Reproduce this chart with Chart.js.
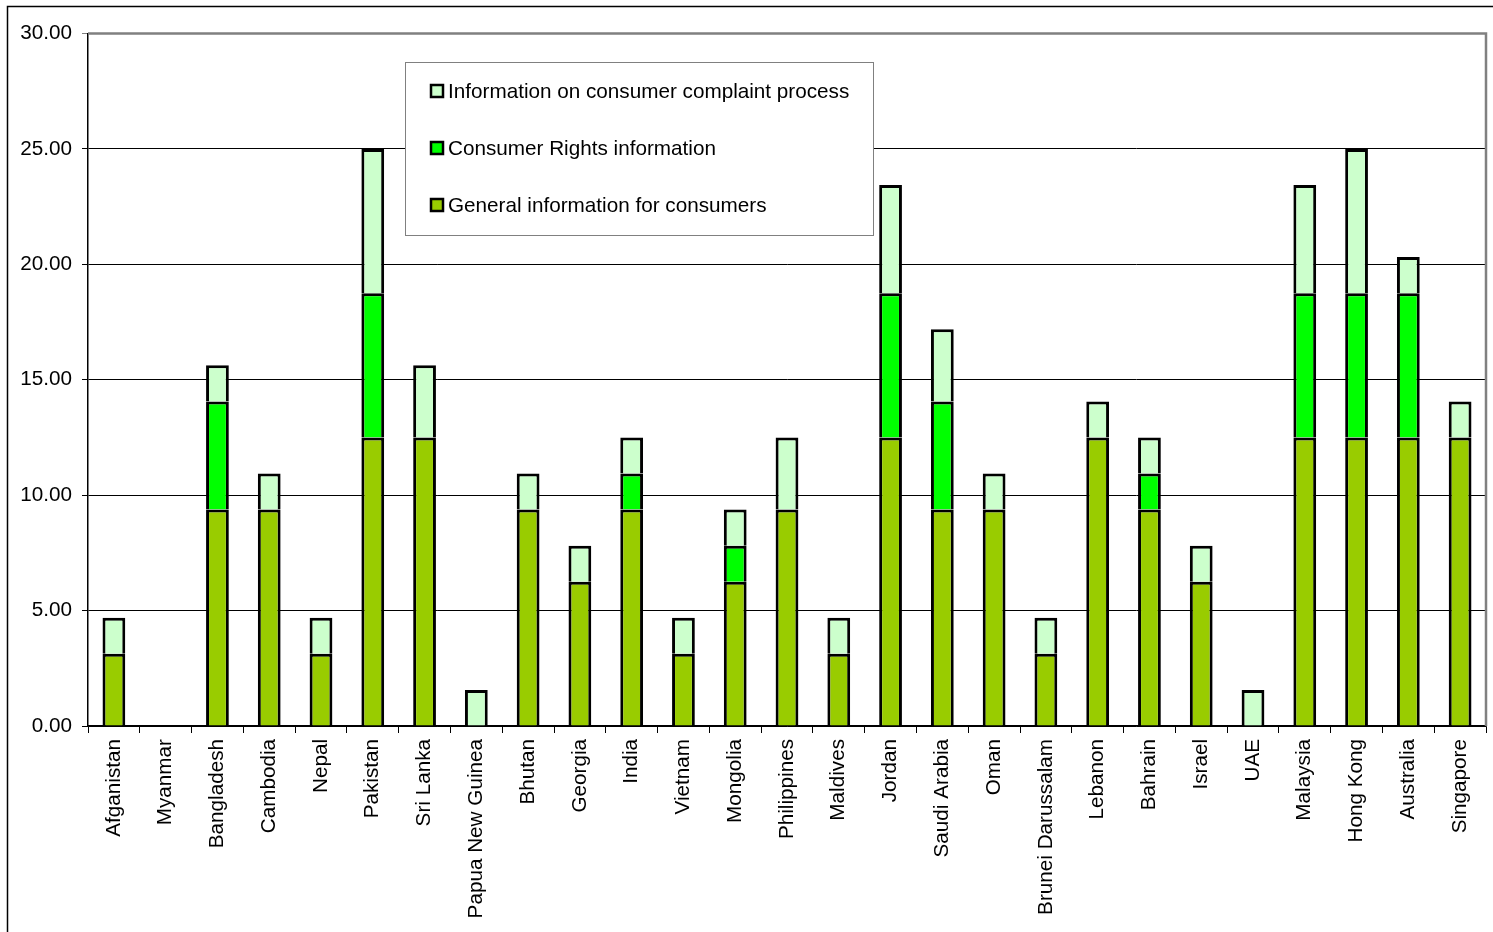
<!DOCTYPE html>
<html>
<head>
<meta charset="utf-8">
<script src="https://cdn.jsdelivr.net/npm/chart.js@4"></script>
<style>
  html, body { margin: 0; padding: 0; background: #fff; }
  #wrap { width: 1493px; height: 932px; position: relative; }
</style>
</head>
<body>
<div id="wrap"><canvas id="chartConsumerInfo"></canvas></div>
<script>
// countries along the x axis
var countries = ["Afganistan", "Myanmar", "Bangladesh", "Cambodia", "Nepal", "Pakistan", "Sri Lanka",
  "Papua New Guinea", "Bhutan", "Georgia", "India", "Vietnam", "Mongolia", "Philippines", "Maldives",
  "Jordan", "Saudi Arabia", "Oman", "Brunei Darussalam", "Lebanon", "Bahrain", "Israel", "UAE",
  "Malaysia", "Hong Kong", "Australia", "Singapore"];

var generalInfo = [3.125, 0, 9.375, 9.375, 3.125, 12.5, 12.5, 0, 9.375, 6.25, 9.375, 3.125, 6.25, 9.375,
  3.125, 12.5, 9.375, 9.375, 3.125, 12.5, 9.375, 6.25, 0, 12.5, 12.5, 12.5, 12.5];

var rightsInfo = [0, 0, 4.6875, 0, 0, 6.25, 0, 0, 0, 0, 1.5625, 0, 1.5625, 0,
  0, 6.25, 4.6875, 0, 0, 0, 1.5625, 0, 0, 6.25, 6.25, 6.25, 0];

var complaintInfo = [1.5625, 0, 1.5625, 1.5625, 1.5625, 6.25, 3.125, 1.5625, 1.5625, 1.5625, 1.5625, 1.5625, 1.5625, 3.125,
  1.5625, 4.6875, 3.125, 1.5625, 1.5625, 1.5625, 1.5625, 1.5625, 1.5625, 4.6875, 6.25, 1.5625, 1.5625];

var yTicks = [0, 5, 10, 15, 20, 25, 30];

var FONT = "'Liberation Sans', Arial, sans-serif";

function bars(label, values, color) {
  return {
    label: label,
    data: values,
    backgroundColor: color,
    borderColor: '#000000',
    borderWidth: 3,
    borderSkipped: 'start',
    inflateAmount: 0,
    barPercentage: 0.44,
    categoryPercentage: 1.0
  };
}

// frame around the whole figure + grey edge on the right of the plot
var framePlugin = {
  id: 'frame',
  afterDraw: function(chart) {
    var ctx = chart.ctx, a = chart.chartArea;
    ctx.save();
    ctx.strokeStyle = '#808080';
    ctx.lineWidth = 2.5;
    ctx.beginPath();
    ctx.moveTo(a.left, a.top);
    ctx.lineTo(a.right, a.top);
    ctx.lineTo(a.right, a.bottom);
    ctx.stroke();
    ctx.strokeStyle = '#000000';
    ctx.lineWidth = 1.5;
    ctx.beginPath();
    ctx.moveTo(1493, 6.5);
    ctx.lineTo(7.5, 6.5);
    ctx.lineTo(7.5, 932);
    ctx.stroke();
    ctx.restore();
  }
};

// boxed legend inside the plot, last series first
var boxLegend = {
  id: 'boxLegend',
  afterDraw: function(chart) {
    var ctx = chart.ctx;
    var x = 405, y = 62, w = 468, h = 173;
    ctx.save();
    ctx.fillStyle = '#ffffff';
    ctx.fillRect(x, y, w, h);
    ctx.strokeStyle = '#808080';
    ctx.lineWidth = 1;
    ctx.strokeRect(x + 0.5, y + 0.5, w, h);
    ctx.font = '20.7px ' + FONT;
    ctx.textBaseline = 'middle';
    var sets = chart.data.datasets.slice().reverse();
    sets.forEach(function(ds, i) {
      var cy = 91 + i * 57;
      ctx.fillStyle = ds.backgroundColor;
      ctx.fillRect(431, cy - 6, 12, 12);
      ctx.strokeStyle = '#000000';
      ctx.lineWidth = 2.5;
      ctx.strokeRect(431, cy - 6, 12, 12);
      ctx.fillStyle = '#000000';
      ctx.fillText(ds.label, 448, cy + 1);
    });
    ctx.restore();
  }
};

var config = {
  type: 'bar',
  data: {
    labels: countries,
    datasets: [
      bars('General information for consumers', generalInfo, '#99CC00'),
      bars('Consumer Rights information', rightsInfo, '#00FF00'),
      bars('Information on consumer complaint process', complaintInfo, '#CCFFCC')
    ]
  },
  options: {
    responsive: true,
    maintainAspectRatio: false,
    animation: false,
    layout: { padding: { top: 33.5, right: 7, left: 0, bottom: 0 } },
    plugins: {
      legend: { display: false },
      tooltip: { enabled: false }
    },
    scales: {
      x: {
        stacked: true,
        offset: true,
        grid: {
          offset: true,
          drawOnChartArea: false,
          color: '#000000',
          lineWidth: 1,
          tickLength: 7
        },
        border: { color: '#000000', width: 1.5 },
        ticks: {
          color: '#000000',
          font: { family: FONT, size: 20.7 },
          minRotation: 90,
          maxRotation: 90,
          autoSkip: false,
          padding: 6
        },
        afterFit: function(scale) { scale.height = 932 - 726; }
      },
      y: {
        stacked: true,
        min: 0,
        max: 30,
        afterBuildTicks: function(scale) {
          scale.ticks = yTicks.map(function(v) { return { value: v }; });
        },
        grid: {
          color: function(c) { return c.tick && c.tick.value === 30 ? '#808080' : '#000000'; },
          lineWidth: 1,
          tickLength: 6
        },
        border: { color: '#000000', width: 1.5 },
        ticks: {
          color: '#000000',
          font: { family: FONT, size: 20.7 },
          padding: 10,
          callback: function(v) { return Number(v).toFixed(2); }
        },
        afterFit: function(scale) { scale.width = 88; }
      }
    }
  },
  plugins: [framePlugin, boxLegend]
};

new Chart(document.getElementById('chartConsumerInfo').getContext('2d'), config);
</script>
</body>
</html>
